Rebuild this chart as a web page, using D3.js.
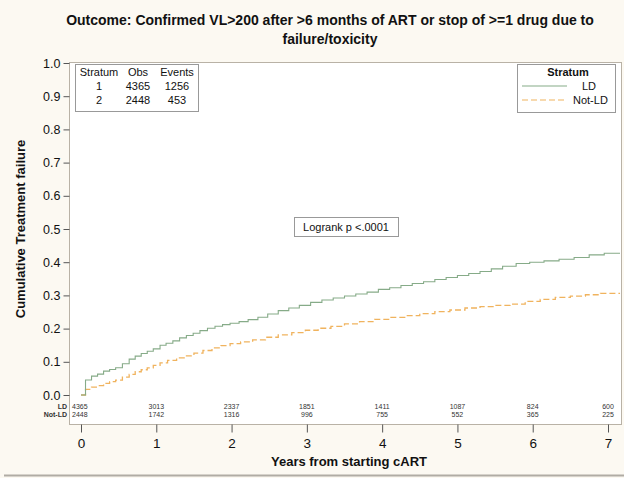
<!DOCTYPE html>
<html><head><meta charset="utf-8">
<script src="https://cdn.jsdelivr.net/npm/d3@7"></script>
<style>
html,body{margin:0;padding:0;background:#fcf9f2;}
svg{display:block;font-family:"Liberation Sans",Arial,sans-serif;}
</style></head>
<body><svg id="chart" width="624" height="478"></svg>
<script>
const titleLines = ["Outcome: Confirmed VL>200 after >6 months of ART or stop of >=1 drug due to", "failure/toxicity"];
const yTicks = [0.0,0.1,0.2,0.3,0.4,0.5,0.6,0.7,0.8,0.9,1.0];
const xTicks = [0,1,2,3,4,5,6,7];
const strata = ["LD","Not-LD"];
const obs = [4365, 2448];
const events = [1256, 453];
const atRiskLD = [4365,3013,2337,1851,1411,1087,824,600];
const atRiskNotLD = [2448,1742,1316,996,755,552,365,225];

const ldTime = [0,0.06,0.14,0.22,0.30,0.38,0.46,0.55,0.64,0.72,0.80,0.88,0.96,1.05,1.13,1.22,1.31,1.40,1.49,1.58,1.68,1.78,1.88,1.98,2.10,2.22,2.35,2.48,2.62,2.76,2.90,3.05,3.20,3.35,3.50,3.65,3.80,3.95,4.10,4.25,4.40,4.55,4.70,4.85,5.00,5.15,5.30,5.45,5.60,5.78,5.96,6.15,6.35,6.55,6.75,6.95,7.16];
const ldFail = [0,0.045,0.057,0.063,0.072,0.077,0.082,0.094,0.108,0.117,0.125,0.132,0.139,0.150,0.156,0.163,0.172,0.179,0.186,0.194,0.201,0.207,0.212,0.216,0.221,0.227,0.234,0.244,0.254,0.262,0.270,0.279,0.286,0.292,0.298,0.304,0.310,0.318,0.323,0.330,0.336,0.341,0.348,0.354,0.360,0.366,0.372,0.380,0.388,0.396,0.400,0.404,0.409,0.414,0.422,0.427,0.427];
const notTime = [0,0.06,0.14,0.22,0.30,0.38,0.46,0.55,0.64,0.72,0.80,0.88,0.96,1.05,1.15,1.27,1.38,1.50,1.62,1.74,1.86,1.98,2.12,2.28,2.45,2.62,2.80,2.98,3.15,3.32,3.50,3.70,3.90,4.10,4.30,4.50,4.70,4.90,5.10,5.30,5.50,5.70,5.90,6.10,6.30,6.50,6.70,6.90,7.16];
const notFail = [0,0.017,0.024,0.028,0.035,0.040,0.045,0.054,0.062,0.070,0.076,0.082,0.089,0.097,0.104,0.112,0.118,0.126,0.134,0.142,0.149,0.155,0.160,0.166,0.174,0.181,0.188,0.195,0.201,0.207,0.214,0.221,0.228,0.234,0.239,0.245,0.251,0.256,0.262,0.266,0.270,0.274,0.282,0.288,0.294,0.298,0.302,0.306,0.306];

const svg = d3.select("#chart");
const frame = {left:69, right:621, top:62, bottom:424};
const x = d3.scaleLinear().domain([0,7]).range([81,608]);
const y = d3.scaleLinear().domain([0,1]).range([395,63]);
const ldColor = "#86ab88", notColor = "#f0b35e", frameColor = "#b9b2a6";

svg.append("line").attr("x1",4).attr("x2",624).attr("y1",475.5).attr("y2",475.5).attr("stroke","#b0aca4").attr("stroke-width",2);

svg.append("rect").attr("x",frame.left+0.5).attr("y",frame.top+0.5)
  .attr("width",frame.right-frame.left).attr("height",frame.bottom-frame.top)
  .attr("fill","#ffffff").attr("stroke",frameColor).attr("stroke-width",1);

svg.selectAll("text.title").data(titleLines).enter().append("text")
  .attr("x",330).attr("y",(d,i)=>25+i*19).attr("text-anchor","middle")
  .attr("font-size","14px").attr("font-weight","bold").attr("fill","#111").text(d=>d);

const yAxis = d3.axisLeft(y).tickValues(yTicks).tickFormat(d3.format(".1f")).tickSize(6).tickPadding(3);
const gy = svg.append("g").attr("transform",`translate(${frame.left+0.5},0)`).call(yAxis);
gy.select(".domain").remove();
gy.selectAll("line").attr("stroke","#555");
gy.selectAll("text").attr("font-size","12.5px").attr("fill","#111").attr("font-family","'Liberation Sans',Arial,sans-serif");

svg.append("text").attr("transform","translate(25,229) rotate(-90)").attr("text-anchor","middle")
  .attr("font-size","13px").attr("font-weight","bold").attr("fill","#111").text("Cumulative Treatment failure");

const xAxis = d3.axisBottom(x).tickValues(xTicks).tickFormat(d3.format("d")).tickSize(8).tickPadding(6);
const gx = svg.append("g").attr("transform",`translate(0,${frame.bottom+0.5})`).call(xAxis);
gx.select(".domain").remove();
gx.selectAll("line").attr("stroke","#555");
gx.selectAll("text").attr("font-size","13.5px").attr("fill","#111").attr("font-family","'Liberation Sans',Arial,sans-serif");

svg.append("text").attr("x",349).attr("y",466).attr("text-anchor","middle")
  .attr("font-size","13px").attr("font-weight","bold").attr("fill","#111").text("Years from starting cART");

const rowY = [409, 417];
[atRiskLD, atRiskNotLD].forEach((arr,ri)=>{
  svg.selectAll(null).data(arr).enter().append("text")
    .attr("x",(d,i)=>i===0? x(0)-9 : x(xTicks[i])).attr("y",rowY[ri])
    .attr("text-anchor",(d,i)=>i===0?"start":"middle")
    .attr("font-size","7px").attr("fill","#333").text(d=>d);
  svg.append("text").attr("x",frame.left-2).attr("y",rowY[ri]).attr("text-anchor","end")
    .attr("font-size","7px").attr("font-weight","bold").attr("fill","#333").text(strata[ri]);
});

const line = d3.line().curve(d3.curveStepAfter).x(d=>x(d[0])).y(d=>y(d[1]));
svg.append("path").datum(notTime.map((t,i)=>[t,notFail[i]]))
  .attr("d",line).attr("fill","none").attr("stroke",notColor).attr("stroke-width",1.3).attr("stroke-dasharray","6,3");
svg.append("path").datum(ldTime.map((t,i)=>[t,ldFail[i]]))
  .attr("d",line).attr("fill","none").attr("stroke",ldColor).attr("stroke-width",1.1);

const tbl = svg.append("g");
tbl.append("rect").attr("x",75.5).attr("y",64.5).attr("width",123).attr("height",47).attr("fill","#fff").attr("stroke","#999");
const cols = [{h:"Stratum",x:99},{h:"Obs",x:138},{h:"Events",x:177}];
cols.forEach(c=>tbl.append("text").attr("x",c.x).attr("y",76).attr("text-anchor","middle").attr("font-size","11px").attr("fill","#111").text(c.h));
[0,1].forEach(i=>{
  const yy = 90 + i*14;
  tbl.append("text").attr("x",99).attr("y",yy).attr("text-anchor","middle").attr("font-size","11px").attr("fill","#111").text(i+1);
  tbl.append("text").attr("x",138).attr("y",yy).attr("text-anchor","middle").attr("font-size","11px").attr("fill","#111").text(obs[i]);
  tbl.append("text").attr("x",177).attr("y",yy).attr("text-anchor","middle").attr("font-size","11px").attr("fill","#111").text(events[i]);
});

const lg = svg.append("g");
lg.append("rect").attr("x",517.5).attr("y",64.5).attr("width",98).attr("height",48).attr("fill","#fff").attr("stroke","#999");
lg.append("text").attr("x",568).attr("y",76).attr("text-anchor","middle").attr("font-size","11px").attr("font-weight","bold").attr("fill","#111").text("Stratum");
const lgColors = [ldColor, notColor], lgDash = [null,"6,3"];
strata.forEach((s,i)=>{
  const yy = 90 + i*14;
  lg.append("line").attr("x1",522).attr("x2",567).attr("y1",yy-4).attr("y2",yy-4)
    .attr("stroke",lgColors[i]).attr("stroke-width",1.2).attr("stroke-dasharray",lgDash[i]);
  lg.append("text").attr("x",i===0?582:573).attr("y",yy).attr("font-size","11px").attr("fill","#111").text(s);
});

svg.append("rect").attr("x",294.5).attr("y",217.5).attr("width",104).attr("height",19).attr("fill","#fff").attr("stroke","#999");
svg.append("text").attr("x",346).attr("y",231).attr("text-anchor","middle").attr("font-size","11px").attr("fill","#111").text("Logrank p <.0001");
</script></body></html>
